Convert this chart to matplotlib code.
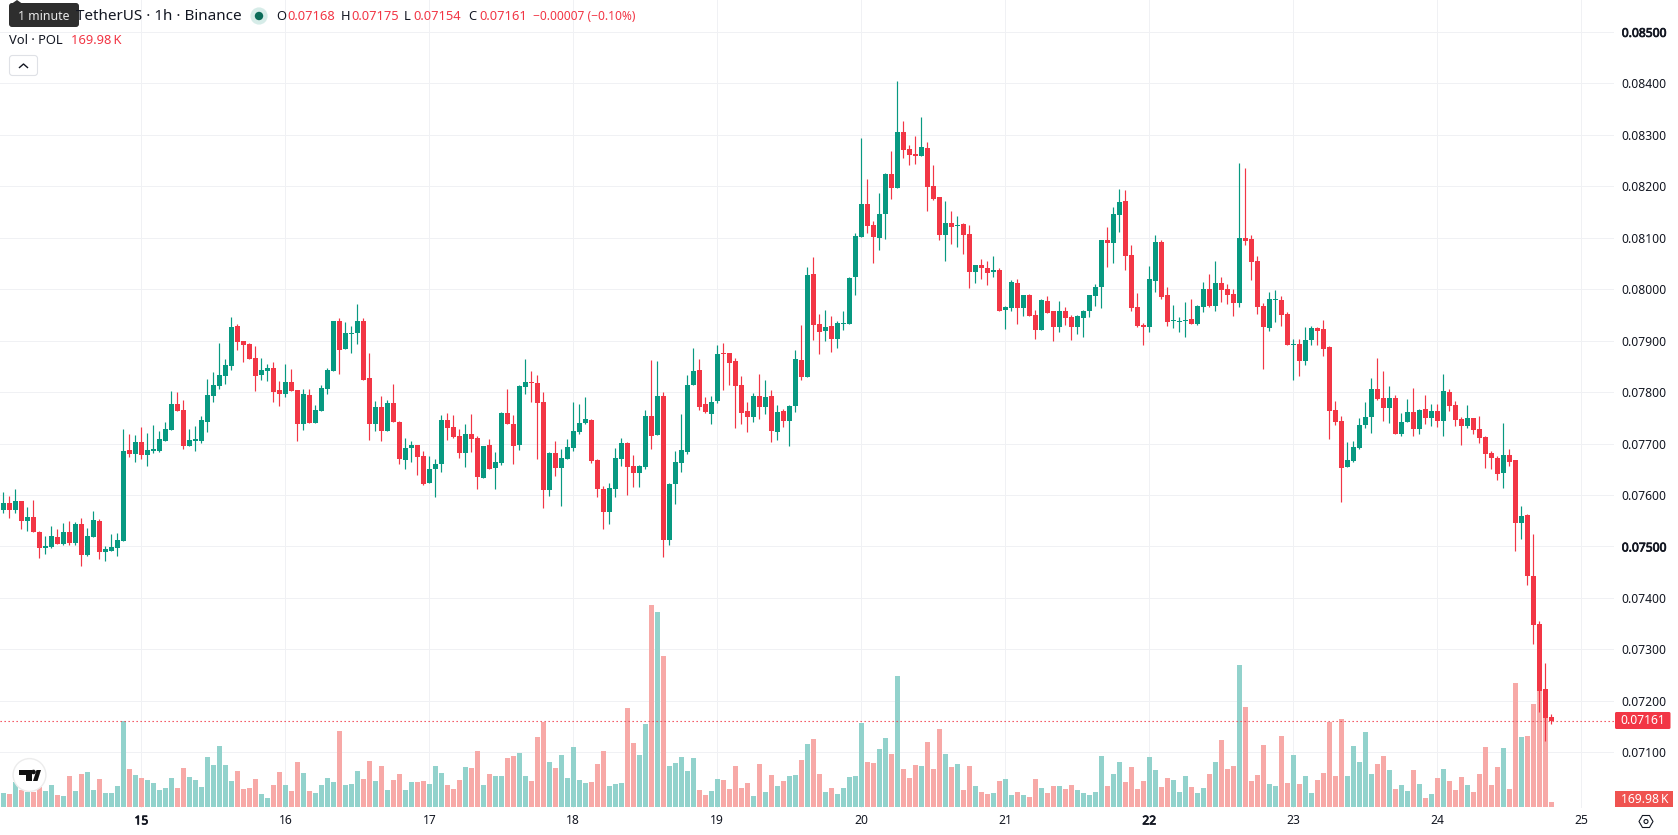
import numpy as np
import matplotlib
matplotlib.use("Agg")
import matplotlib.pyplot as plt
import matplotlib.patheffects as pe
from matplotlib.patches import Circle, FancyBboxPatch, Polygon, Rectangle

# Hourly POL/USDT candles, prices in units of 0.00001
highs = [
    7606,7598,7612,7588,7577,7590,7530,7520,7540,7534,
    7545,7549,7547,7555,7536,7569,7553,7501,7524,7526,
    7728,7719,7717,7732,7721,7736,7724,7742,7802,7800,
    7785,7728,7734,7754,7826,7839,7896,7865,7945,7933,
    7900,7896,7890,7867,7855,7859,7822,7855,7845,7804,
    7806,7806,7775,7814,7847,7939,7943,7937,7929,7972,
    7943,7876,7783,7793,7785,7816,7744,7711,7705,7697,
    7686,7676,7670,7756,7760,7756,7728,7738,7758,7715,
    7695,7709,7684,7762,7806,7756,7814,7865,7841,7833,
    7800,7684,7705,7689,7709,7781,7777,7791,7748,7670,
    7617,7623,7691,7711,7703,7678,7658,7765,7863,7861,
    7800,7623,7686,7758,7834,7886,7865,7791,7793,7892,
    7896,7876,7867,7832,7781,7798,7835,7824,7804,7775,
    7767,7775,7882,7931,8044,8062,7951,7959,7947,7939,
    7957,8023,8109,8294,8214,8132,8187,8225,8268,8405,
    8327,8280,8297,8334,8286,8241,8179,8171,8151,8142,
    8128,8124,8046,8058,8054,8064,8042,7968,8017,8019,
    7988,7990,7959,7980,7986,7957,7976,7965,7950,7950,
    7960,7989,8010,8096,8121,8160,8195,8193,8086,7993,
    7934,8045,8105,8096,8004,7969,7946,7975,7981,7969,
    8014,8030,8055,8024,8010,8000,8246,8236,8105,8065,
    7973,7995,7998,7987,7956,7903,7903,7926,7928,7926,
    7940,7889,7783,7754,7703,7705,7750,7781,7828,7867,
    7840,7812,7795,7760,7787,7808,7767,7795,7777,7777,
    7836,7806,7783,7752,7775,7750,7754,7715,7686,7676,
    7740,7690,7668,7579,7563,7524,7355,7273,7175,
]
lows = [
    7565,7555,7565,7534,7530,7528,7477,7485,7497,7504,
    7502,7502,7502,7462,7481,7518,7475,7471,7491,7481,
    7510,7674,7664,7670,7656,7682,7684,7705,7726,7763,
    7689,7695,7686,7701,7723,7781,7806,7816,7843,7882,
    7859,7865,7802,7824,7822,7781,7773,7791,7802,7705,
    7726,7740,7740,7763,7797,7841,7835,7884,7876,7894,
    7824,7707,7724,7705,7724,7742,7660,7651,7664,7639,
    7619,7623,7596,7645,7707,7711,7672,7654,7684,7612,
    7633,7651,7612,7658,7738,7660,7687,7797,7781,7670,
    7575,7598,7637,7578,7670,7686,7719,7738,7662,7596,
    7534,7543,7596,7656,7600,7615,7615,7651,7689,7717,
    7479,7502,7582,7645,7680,7814,7765,7760,7738,7779,
    7804,7814,7730,7738,7723,7742,7748,7758,7703,7707,
    7732,7695,7762,7824,7830,7902,7873,7900,7877,7885,
    7920,7933,7988,8101,8109,8050,8076,8097,8175,8196,
    8255,8241,8243,8259,8151,8173,8095,8054,8087,8081,
    8068,8003,8011,8019,8009,8023,7957,7922,7957,7933,
    7947,7947,7904,7920,7953,7900,7916,7931,7901,7913,
    7907,7946,7967,7963,8043,8051,8111,8037,7958,7926,
    7891,7917,7995,7981,7928,7924,7917,7907,7932,7930,
    7956,7965,7958,7975,7971,7948,7965,8086,8018,7952,
    7845,7919,7936,7928,7891,7823,7831,7852,7891,7891,
    7870,7708,7736,7586,7655,7664,7690,7731,7721,7785,
    7744,7740,7719,7715,7742,7715,7719,7738,7734,7733,
    7715,7764,7734,7697,7731,7719,7701,7653,7651,7629,
    7614,7657,7491,7514,7425,7310,7178,7121,7154,
]
opens = [
    7571,7584,7571,7588,7549,7557,7528,7497,7499,7518,
    7504,7528,7506,7543,7483,7518,7549,7489,7491,7497,
    7510,7688,7680,7703,7678,7686,7686,7705,7726,7777,
    7765,7695,7705,7705,7742,7793,7812,7832,7851,7929,
    7900,7894,7867,7834,7841,7847,7804,7797,7820,7804,
    7738,7795,7740,7763,7806,7841,7939,7884,7913,7915,
    7939,7828,7738,7771,7724,7779,7742,7668,7691,7697,
    7676,7623,7651,7660,7746,7732,7715,7682,7719,7711,
    7633,7697,7653,7662,7760,7738,7697,7810,7820,7818,
    7781,7610,7682,7653,7670,7691,7723,7740,7746,7668,
    7612,7567,7612,7670,7701,7656,7643,7654,7754,7717,
    7793,7512,7621,7662,7684,7814,7843,7777,7758,7783,
    7875,7876,7861,7814,7763,7752,7793,7771,7793,7723,
    7763,7744,7773,7863,7830,8029,7933,7918,7928,7904,
    7933,7933,8023,8101,8165,8124,8099,8146,8223,8196,
    8305,8272,8262,8259,8274,8200,8179,8105,8128,8122,
    8126,8107,8033,8046,8042,8033,8037,7959,7963,8011,
    7963,7988,7949,7920,7976,7957,7926,7957,7946,7926,
    7944,7958,7987,8004,8096,8090,8144,8172,8067,7965,
    7930,7926,8016,8092,7989,7938,7936,7938,7942,7932,
    7965,8000,7967,8012,8000,7991,7973,8100,8098,8055,
    7967,7924,7979,7979,7952,7891,7893,7860,7901,7924,
    7922,7887,7766,7744,7655,7666,7692,7736,7752,7805,
    7789,7769,7789,7719,7742,7762,7729,7767,7750,7764,
    7744,7801,7775,7748,7734,7750,7729,7713,7682,7672,
    7643,7678,7668,7546,7561,7442,7349,7222,7168,
]
closes = [
    7584,7571,7588,7549,7557,7528,7497,7501,7520,7504,
    7528,7506,7543,7483,7520,7551,7489,7495,7499,7512,
    7686,7680,7703,7678,7688,7689,7709,7728,7777,7763,
    7695,7707,7709,7746,7795,7814,7834,7853,7927,7898,
    7892,7865,7832,7843,7847,7800,7797,7820,7802,7738,
    7797,7740,7765,7808,7843,7939,7882,7915,7915,7939,
    7824,7738,7771,7724,7779,7742,7670,7691,7697,7674,
    7621,7651,7660,7746,7730,7713,7682,7719,7709,7635,
    7695,7651,7664,7760,7738,7695,7812,7820,7818,7779,
    7610,7682,7653,7672,7693,7725,7740,7748,7666,7612,
    7567,7614,7672,7701,7654,7643,7656,7754,7715,7793,
    7512,7621,7664,7688,7814,7841,7771,7762,7781,7873,
    7873,7857,7812,7760,7752,7793,7771,7791,7724,7762,
    7744,7773,7865,7830,8027,7931,7916,7926,7904,7935,
    7935,8021,8103,8165,8122,8101,8146,8223,8196,8305,
    8270,8260,8259,8276,8198,8175,8105,8128,8120,8124,
    8105,8033,8046,8042,8031,8037,7957,7965,8013,7963,
    7988,7947,7920,7978,7953,7926,7957,7943,7926,7948,
    7958,7989,8004,8096,8090,8146,8170,8065,7963,7928,
    7926,8020,8092,7985,7936,7940,7938,7940,7932,7967,
    8000,7967,8012,7998,7989,7973,8100,8094,8053,7965,
    7926,7981,7981,7950,7891,7893,7860,7901,7924,7919,
    7884,7764,7742,7653,7668,7694,7736,7752,7805,7787,
    7769,7789,7719,7742,7762,7729,7766,7750,7764,7744,
    7803,7773,7746,7734,7750,7727,7711,7680,7672,7641,
    7678,7664,7546,7559,7442,7347,7219,7166,7161,
]
# Hourly traded volume, thousands of POL
volumes = [
    476,442,850,578,510,510,680,544,748,408,
    374,1054,544,1122,1190,578,952,476,476,714,
    2924,1292,1088,986,918,816,578,646,986,646,
    1326,1020,918,680,1700,1428,2074,1428,884,1224,
    612,646,952,442,306,748,1190,748,544,1530,
    1156,544,476,748,986,850,2584,748,782,1224,
    952,1564,884,1394,578,918,1122,578,850,850,
    884,782,1394,1156,748,612,918,1360,1326,1904,
    748,1122,1054,1054,1666,1734,1836,1054,884,2380,
    2890,1530,1326,1768,986,2040,918,816,850,1462,
    1904,714,782,816,3366,2176,1768,2822,6868,6630,
    5134,1394,1496,1700,1224,1666,578,408,544,952,
    918,612,1394,646,816,374,1462,510,1088,714,
    884,1054,1088,1598,2142,2312,1122,510,646,442,
    646,1020,1054,2856,1530,1496,1972,2346,1802,4454,
    1292,986,1428,1394,2210,1292,2652,1802,1360,1462,
    578,1394,714,510,442,476,884,952,408,510,
    408,340,952,646,476,714,714,612,748,578,
    476,408,510,1734,714,1122,1530,850,1360,612,
    884,1700,1258,680,986,918,510,1054,680,476,
    646,1122,1530,2278,1292,1394,4828,3400,884,1088,
    2108,782,714,2414,816,1768,782,1054,476,918,
    1156,2890,1054,2992,1054,2074,1530,2550,1122,1462,
    1734,1258,612,748,544,1258,782,306,442,986,
    1292,884,578,1020,748,510,1122,2040,748,1360,
    2006,612,4216,2380,2414,3502,3966,3173,169.98,
]
price_ticks = [0.071,0.072,0.073,0.074,0.075,0.076,0.077,0.078,0.079,0.080,0.081,0.082,0.083,0.084,0.085]
bold_price_ticks = [0.075, 0.085]
day_labels = ["15","16","17","18","19","20","21","22","23","24","25"]
bold_day_labels = ["15","22"]
last_price = 0.07161
last_volume_label = "169.98\u2009K"

GREEN = "#089981"
RED = "#f23645"
VOL_GREEN = "#92d2cc"
VOL_RED = "#f7a9a7"
GRID = "#f0f1f4"
INK = "#131722"
FONT = "Noto Sans"

plt.rcParams["font.family"] = [FONT, "DejaVu Sans"]

W, H = 1678, 835
PANE_R, PANE_B = 1614, 808
fig = plt.figure(figsize=(W / 100, H / 100), dpi=100, facecolor="white")
pane_rect = [0, (H - PANE_B) / H, PANE_R / W, PANE_B / H]

o = np.array(opens) / 1e5
h = np.array(highs) / 1e5
l = np.array(lows) / 1e5
c = np.array(closes) / 1e5
v = np.array(volumes, dtype=float)
idx = np.arange(len(o))
up = c >= o

xlim = (-0.555, 268.445)
price_lim = (0.069917, 0.085619)
vol_lim = (-34, 27438)
first_midnight = 23
day_pos = [first_midnight + 24 * k for k in range(len(day_labels))]

# Same-width emphasis for the round-number scale labels
heavy = [pe.withStroke(linewidth=0.55, foreground=INK)]

# Bottom layer: white pane, grid, both axes' labels
ax_grid = fig.add_axes(pane_rect, zorder=0)
ax_grid.set_xlim(xlim)
ax_grid.set_ylim(price_lim)
ax_grid.set_xticks(day_pos, day_labels)
ax_grid.set_yticks(price_ticks, [f"{p:.5f}" for p in price_ticks])
ax_grid.yaxis.tick_right()
ax_grid.tick_params(axis="both", length=0, labelsize=8.7, labelcolor=INK)
ax_grid.tick_params(axis="x", pad=4.6)
ax_grid.tick_params(axis="y", pad=5.6)
ax_grid.grid(True, color=GRID, linewidth=0.72)
ax_grid.set_axisbelow(True)
for lab, p in zip(ax_grid.get_yticklabels(), price_ticks):
    if p in bold_price_ticks:
        lab.set_path_effects(heavy)
for lab, d in zip(ax_grid.get_xticklabels(), day_labels):
    if d in bold_day_labels:
        lab.set_path_effects(heavy)
for s in ax_grid.spines.values():
    s.set_visible(False)

# Volume histogram on its own scale
ax_vol = fig.add_axes(pane_rect, zorder=1)
ax_vol.patch.set_visible(False)
ax_vol.set_xlim(xlim)
ax_vol.set_ylim(vol_lim)
ax_vol.axis("off")
ax_vol.bar(idx, v, width=0.84, color=[VOL_GREEN if u else VOL_RED for u in up], linewidth=0)

# Candlesticks
ax = fig.add_axes(pane_rect, zorder=2)
ax.patch.set_visible(False)
ax.set_xlim(xlim)
ax.set_ylim(price_lim)
ax.axis("off")
colors = [GREEN if u else RED for u in up]
ax.vlines(idx, l, h, colors=colors, linewidth=0.85, zorder=2)
ax.bar(idx, np.abs(c - o), bottom=np.minimum(o, c), width=0.84, color=colors, linewidth=0, zorder=3)
ax.axhline(last_price, color=RED, linewidth=0.8, linestyle=(0, (1.17, 2.43)), zorder=4)

# Legend rows, tags, watermark and other chart furniture, laid out in pixels
ui = fig.add_axes([0, 0, 1, 1], zorder=3)
ui.patch.set_visible(False)
ui.set_xlim(0, W)
ui.set_ylim(H, 0)
ui.axis("off")

ui.text(76, 16.5, "TetherUS · 1h · Binance", fontsize=10.95, color=INK, va="center", ha="left")
ui.add_patch(Circle((259, 16), 8.6, color="#d6ece8", linewidth=0))
ui.add_patch(Circle((259, 16), 4.2, color="#0b6b58", linewidth=0))

legend_y = 16.5
for x, letter, x_val, val in [
    (276, "O", 287.5, "0.07168"),
    (340.5, "H", 351, "0.07175"),
    (404, "L", 413, "0.07154"),
    (468, "C", 479, "0.07161"),
]:
    ui.text(x, legend_y, letter, fontsize=9.3, color=INK, va="center", ha="left")
    ui.text(x_val, legend_y, val, fontsize=9.3, color=RED, va="center", ha="left")
ui.text(533, legend_y, "−0.00007 (−0.10%)", fontsize=8.65, color=RED, va="center", ha="left")

ui.text(9, 41, "Vol · POL", fontsize=9.3, color=INK, va="center", ha="left")
ui.text(71, 41, "169.98\u2009K", fontsize=9.3, color=RED, va="center", ha="left")
ui.add_patch(FancyBboxPatch((9.5, 55.5), 28, 20, boxstyle="round,pad=0,rounding_size=3",
                            facecolor="white", edgecolor="#dfe1e6", linewidth=0.8))
ui.plot([19.5, 23.5, 27.5], [67.5, 64, 67.5], color=INK, linewidth=1.0)

# Hover tooltip
ui.add_patch(Polygon([[12, 3.5], [17, 0], [22, 3.5]], color="#2e2e2e", linewidth=0))
ui.add_patch(FancyBboxPatch((9, 3), 70, 24, boxstyle="round,pad=0,rounding_size=3",
                            facecolor="#2e2e2e", edgecolor="none"))
ui.text(43.5, 16, "1 minute", fontsize=8.9, color="#e8e8e8", va="center", ha="center")

# Last-price and last-volume tags on the scale
ui.add_patch(FancyBboxPatch((1615, 712), 55.5, 17, boxstyle="round,pad=0,rounding_size=1.5",
                            facecolor=RED, edgecolor="none"))
ui.text(1643, 720.7, f"{last_price:.5f}", fontsize=8.7, color="white", va="center", ha="center")
ui.add_patch(Rectangle((1615, 791), 58, 16, facecolor="#ef5350", edgecolor="none"))
ui.text(1644.5, 799.3, last_volume_label, fontsize=8.7, color="white", va="center", ha="center")

# Scale settings icon
ui.add_patch(Polygon([[1639, 821.5], [1642.5, 815.5], [1649.5, 815.5], [1653, 821.5],
                      [1649.5, 827.5], [1642.5, 827.5]], closed=True, fill=False,
                     edgecolor=INK, linewidth=0.8))
ui.add_patch(Circle((1646, 821.5), 2.0, fill=False, edgecolor=INK, linewidth=0.8))

# Logo badge
ui.add_patch(Circle((29.5, 775), 16.4, facecolor="white", edgecolor="#ececec", linewidth=1.0, zorder=5))
ui.add_patch(Polygon([[19, 770], [31.5, 770], [31.5, 781], [25.5, 781], [25.5, 775], [19, 775]],
                     closed=True, color="#111111", linewidth=0, zorder=6))
ui.add_patch(Circle((33.5, 772), 2.3, color="#111111", linewidth=0, zorder=6))
ui.add_patch(Polygon([[33, 781], [37.5, 781], [41, 770], [36.5, 770]],
                     closed=True, color="#111111", linewidth=0, zorder=6))

fig.savefig("out.png", dpi=100)
